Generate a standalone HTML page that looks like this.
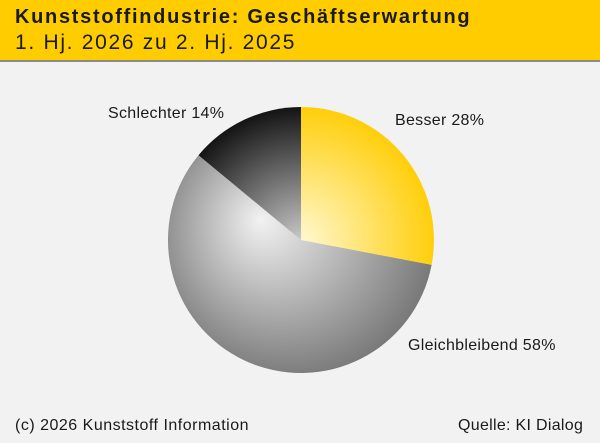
<!DOCTYPE html>
<html><head><style>
body{margin:0;width:600px;height:443px;background:#f2f2f2;font-family:"Liberation Sans","DejaVu Sans",sans-serif;overflow:hidden;position:relative}
.hd{position:absolute;left:0;top:0;width:600px;height:60px;background:#ffcc00;border-bottom:2px solid #8a8a8a}
.t1{position:absolute;left:15px;top:6px;font-size:20px;font-weight:bold;color:#1a1a1a;letter-spacing:1.7px}
.t2{position:absolute;left:15px;top:31px;font-size:21px;color:#1a1a1a;letter-spacing:1.7px}
.l{position:absolute;font-size:16px;color:#1a1a1a;letter-spacing:0.3px}
</style></head><body>
<div class="hd"><div class="t1">Kunststoffindustrie: Geschäftserwartung</div><div class="t2">1. Hj. 2026 zu 2. Hj. 2025</div></div>
<svg width="600" height="443" style="position:absolute;left:0;top:0">
<defs>
<radialGradient id="y" gradientUnits="userSpaceOnUse" cx="301" cy="240" r="140"><stop offset="0" stop-color="#fff8d0"/><stop offset="1" stop-color="#ffcc00"/></radialGradient>
<radialGradient id="g" gradientUnits="userSpaceOnUse" cx="290" cy="235" r="150" fx="260" fy="220"><stop offset="0" stop-color="#f2f2f2"/><stop offset="1" stop-color="#757575"/></radialGradient>
<radialGradient id="b" gradientUnits="userSpaceOnUse" cx="301" cy="240" r="135"><stop offset="0" stop-color="#c8c8c8"/><stop offset="1" stop-color="#111"/></radialGradient>
</defs>
<path d="M301,240 L301,107 A133,133 0 0 1 431.6,264.9 Z" fill="url(#y)"/>
<path d="M301,240 L431.6,264.9 A133,133 0 1 1 198.5,155.2 Z" fill="url(#g)"/>
<path d="M301,240 L198.5,155.2 A133,133 0 0 1 301,107 Z" fill="url(#b)"/>
</svg>
<div class="l" style="left:108px;top:105px">Schlechter 14%</div>
<div class="l" style="left:395px;top:112px">Besser 28%</div>
<div class="l" style="left:408px;top:337px">Gleichbleibend 58%</div>
<div class="l" style="left:15px;top:417px;letter-spacing:0.5px">(c) 2026 Kunststoff Information</div>
<div class="l" style="left:458px;top:417px">Quelle: KI Dialog</div>
</body></html>
